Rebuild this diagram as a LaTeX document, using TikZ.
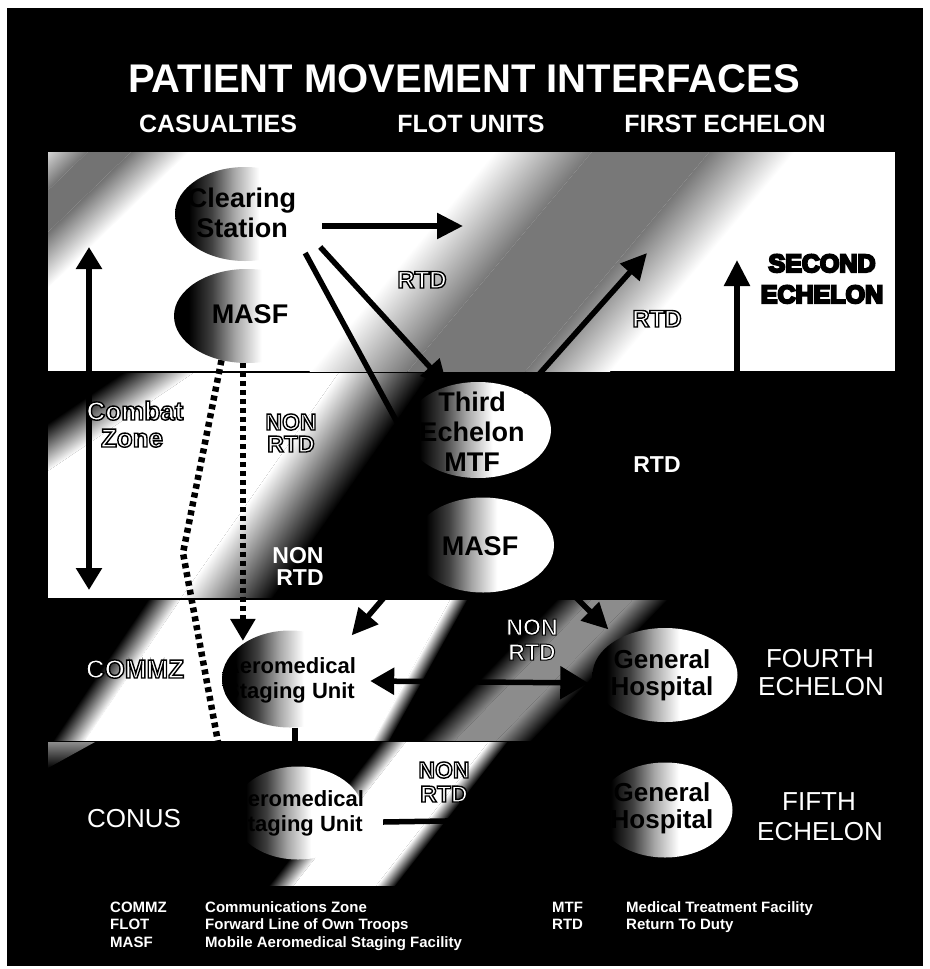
\documentclass[tikz,border=0pt]{standalone}
\usepackage{fontspec}
\setmainfont{Liberation Sans}
\usetikzlibrary{arrows.meta,calc,shapes.geometric}
\pgfdeclarehorizontalshading{ellshade}{100bp}{color(0bp)=(black); color(25bp)=(black); color(30bp)=(black); color(38bp)=(black!75); color(46bp)=(black!35); color(55bp)=(white); color(100bp)=(white)}
\newcommand\fs[2]{\fontsize{#1bp}{#2bp}\selectfont}
% outlined text: stroke width, fill colour, text
\newcommand\outl[3]{{\color{#2}\special{pdf:literal direct 2 Tr #1 w 0 G}#3\special{pdf:literal direct 0 Tr}}}
% beam: x, y, rotation, half core width, left edge, right edge, base colour, beam colour
\newcommand\beam[8]{%
\begin{scope}[transform canvas={shift={(#1,#2)},rotate=#3}]
\shade[left color=#7,right color=#8] ({-(#4)-(#5)},-900) rectangle ({-(#4)},900);
\fill[#8] ({-(#4)},-900) rectangle ({#4},900);
\shade[left color=#8,right color=#7] ({#4},-900) rectangle ({(#4)+(#6)},900);
\end{scope}}
% edge strip: x, y, rotation, local x1, local x2, left colour, right colour
\newcommand\edgestrip[7]{%
\begin{scope}[transform canvas={shift={(#1,#2)},rotate=#3}]
\shade[left color=#6,right color=#7] (#4,-900) rectangle (#5,900);
\end{scope}}
\begin{document}
\begin{tikzpicture}[x=1bp,y=-1bp,
  ell/.style 2 args={ellipse, shade, shading=ellshade, minimum width=#1, minimum height=#2, inner sep=0pt},
  etxt/.style 2 args={align=center, inner sep=0pt, text=black, font=\bfseries\fs{#1}{#2}},
  lab/.style={anchor=base, inner sep=0pt, font=\bfseries\fs{#1}{28}},
  reg/.style={anchor=base, inner sep=0pt, text=white, font=\fs{26}{30}},
  hdr/.style={anchor=base, inner sep=0pt, text=white, font=\bfseries\fs{25}{30}},
  leg/.style={anchor=base west, inner sep=0pt, text=white, font=\bfseries\fs{15}{18}},
  arr/.style={line width=5.5bp, -{Triangle[length=26bp,width=25bp]}},
  ln/.style={line width=5.5bp},
  dots/.style={line width=6.5bp, dash pattern=on 5bp off 4bp},
  dotarr/.style={dots, -{Triangle[length=22bp,width=24bp]}}]
\useasboundingbox (0,0) rectangle (930,969);
\fill[white] (0,0) rectangle (930,969);
\fill[black] (7,8) rectangle (923,966);
% band 1
\begin{scope}
\clip (48,152) rectangle (895,371);
\fill[white] (48,152) rectangle (895,371);
\beam{560}{260}{-40}{45}{75}{65}{white}{black!53}
\beam{70}{190}{-46}{15}{40}{40}{white}{black!55}
\end{scope}
% band 2
\begin{scope}
\clip (48,373) rectangle (895,597);
\fill[black] (48,373) rectangle (895,597);
\fill[white] (212.7,360) -- (347.5,360) -- (172.5,610) -- (-158,610) -- cycle;
\edgestrip{100}{436}{-56}{-40}{0}{black}{white}
\edgestrip{260}{485}{-35}{0}{75}{white}{black}
\end{scope}
% band 3
\begin{scope}
\clip (48,600) rectangle (895,740);
\fill[black] (48,600) rectangle (895,740);
\fill[white] (186.8,590) -- (455.5,590) -- (367.5,750) -- (78.2,750) -- cycle;
\edgestrip{180}{600}{-34}{-27}{0}{black}{white}
\edgestrip{450}{600}{-29}{0}{15}{white}{black}
\beam{544}{670}{-44}{15}{25}{25}{black}{black!45}
\end{scope}
% band 4
\begin{scope}
\clip (48,742) rectangle (895,885);
\fill[black] (48,742) rectangle (895,885);
\beam{394}{810}{-38}{32.5}{20}{15}{black}{white}
\shade[top color=black!45, bottom color=black] (48,742) -- (95,742) -- (48,768) -- cycle;
\end{scope}
% ellipses
\node[ell={140bp}{94bp}] (CS) at (245,214) {};
\node[ell={146bp}{94bp}] (MASF1) at (247,316) {};
\node[ell={146bp}{96bp}] (TE) at (478,430) {};
\node[ell={142bp}{95bp}] (MASF2) at (483,545) {};
\node[ell={136bp}{97bp}] (AE3) at (290,679) {};
\node[ell={145bp}{94bp}] (GH3) at (665,675) {};
\node[ell={130bp}{93bp}] (AE4) at (298,813) {};
\node[ell={135bp}{95bp}] (GH4) at (665,810) {};
\node[etxt={27}{30}] (CSt) at (242,213) {Clearing\\Station};
\node[etxt={27}{30}] (MASF1t) at (250,314) {MASF};
\node[etxt={27}{30}] (TEt) at (472,432) {Third\\Echelon\\MTF};
\node[etxt={27}{30}] (MASF2t) at (480,546) {MASF};
\node[etxt={22}{25}] (AE3t) at (290,680) {Aeromedical\\Staging Unit};
\node[etxt={26}{27}] (GH3t) at (662,675) {General\\Hospital};
\node[etxt={22}{25}] (AE4t) at (298,813) {Aeromedical\\Staging Unit};
\node[etxt={26}{27}] (GH4t) at (662,808) {General\\Hospital};
% connectors
\coordinate (rtdA) at (463,226);
\coordinate (rtdB) at (647,253);
\coordinate (se1) at (737,371);
\coordinate (se2) at (737,260);
\coordinate (cz1) at (89,247);
\coordinate (cz2) at (89,590);
\coordinate (dk1) at (183,553);
\coordinate (dk2) at (218,742);
\draw[arr, shorten <=7bp] (CS.east |- rtdA) -- (rtdA);
\draw[arr] ($(CS.east)+(5,33)$) -- (TE.125);
\draw[ln] ($(CS.east)+(-10,39)$) -- (TE.200);
\draw[arr] (TE.40) -- (rtdB);
\draw[arr] (se1) -- (se2);
\draw[line width=5.5bp, {Triangle[length=22bp,width=25bp]}-{Triangle[length=22bp,width=25bp]}] (cz1) -- (cz2);
\draw[dots] (MASF1.240) -- (dk1) -- (dk2);
\draw[dotarr] (MASF1.265) -- ($(MASF1.265 |- AE3.145)+(0,-4)$);
\draw[arr] ($(MASF2.west)+(-17,40)$) -- ($(AE3.45)+(22,-4)$);
\draw[line width=5.5bp, {Triangle[length=24bp,width=26bp]}-{Triangle[length=28bp,width=32bp]}] ($(AE3.east)+(12,2)$) -- ($(GH3.west)+(-4,8)$);
\draw[arr] (MASF2.-20) -- ($(GH3.135)+(-17,-6)$);
\draw[ln] ($(AE3.south)+(5,0)$) -- ($(AE4.north)+(-3,0)$);
\draw[ln] ($(AE4.east)+(20,9)$) -- ($(GH4.west)+(-30,9)$);
% titles
\node[anchor=base, inner sep=0pt, text=white, font=\bfseries\fs{40}{44}] (title) at (464,92) {PATIENT MOVEMENT INTERFACES};
\node[hdr] (h1) at (218,132) {CASUALTIES};
\node[hdr] (h2) at (471,132) {FLOT UNITS};
\node[hdr] (h3) at (725,132) {FIRST ECHELON};
% labels
\node[lab=24] (rtd1) at (422,288) {\outl{1.4}{white}{RTD}};
\node[lab=24] (rtd2) at (657,327) {\outl{1.4}{white}{RTD}};
\node[lab=25] (sec1) at (822,272) {\outl{2.2}{black}{SECOND}};
\node[lab=25] (sec2) at (822,303) {\outl{2.2}{black}{ECHELON}};
\node[lab=26] (cz3) at (135,420) {\outl{1.4}{white}{Combat}};
\node[lab=26] (cz4) at (132,447) {\outl{1.4}{white}{Zone}};
\node[lab=23] (n1a) at (291,430) {\outl{1.4}{white}{NON}};
\node[lab=23] (n1b) at (291,452) {\outl{1.4}{white}{RTD}};
\node[lab=23, text=white] (n2a) at (298,563) {NON};
\node[lab=23, text=white] (n2b) at (300,585) {RTD};
\node[lab=23, text=white] (rtd3) at (657,472) {RTD};
\node[lab=26] (commz) at (135,678) {\outl{1.4}{white}{COMMZ}};
\node[lab=23] (n3a) at (532,635) {\outl{1}{white}{NON}};
\node[lab=23] (n3b) at (532,660) {\outl{1}{white}{RTD}};
\node[lab=23] (n4a) at (444,778) {\outl{1.4}{white}{NON}};
\node[lab=23] (n4b) at (444,802) {\outl{1.4}{white}{RTD}};
\node[reg] (fo1) at (820,667) {FOURTH};
\node[reg] (fo2) at (821,695) {ECHELON};
\node[reg] (conus) at (134,827) {CONUS};
\node[reg] (fi1) at (819,810) {FIFTH};
\node[reg] (fi2) at (820,840) {ECHELON};
% legend
\node[leg] (l1a) at (110,912) {COMMZ};
\node[leg] (l1b) at (205,912) {Communications Zone};
\node[leg] (l2a) at (110,929.5) {FLOT};
\node[leg] (l2b) at (205,929.5) {Forward Line of Own Troops};
\node[leg] (l3a) at (110,947) {MASF};
\node[leg] (l3b) at (205,947) {Mobile Aeromedical Staging Facility};
\node[leg] (l4a) at (552,912) {MTF};
\node[leg] (l4b) at (626,912) {Medical Treatment Facility};
\node[leg] (l5a) at (552,929.5) {RTD};
\node[leg] (l5b) at (626,929.5) {Return To Duty};
\end{tikzpicture}
\end{document}
